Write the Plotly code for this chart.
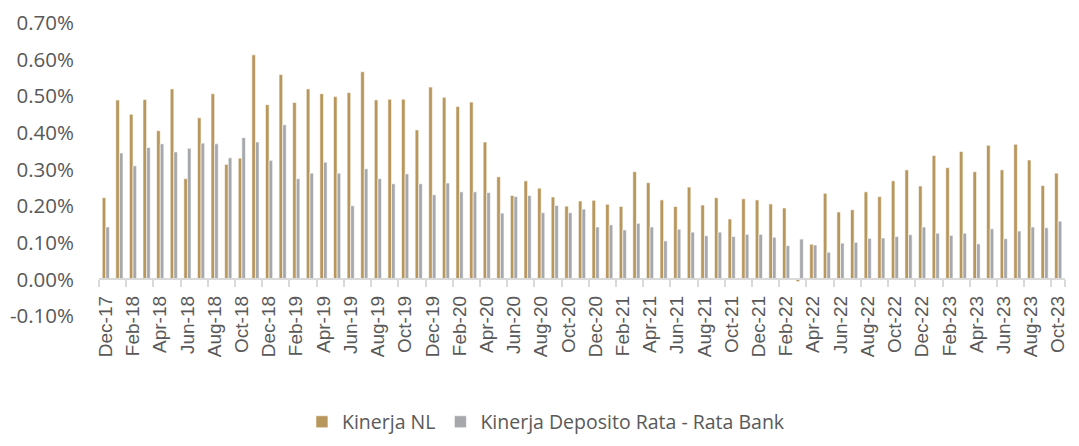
import plotly.graph_objects as go

months = [
    "Dec-17",
    "Jan-18", "Feb-18", "Mar-18", "Apr-18", "May-18", "Jun-18", "Jul-18", "Aug-18", "Sep-18", "Oct-18", "Nov-18", "Dec-18",
    "Jan-19", "Feb-19", "Mar-19", "Apr-19", "May-19", "Jun-19", "Jul-19", "Aug-19", "Sep-19", "Oct-19", "Nov-19", "Dec-19",
    "Jan-20", "Feb-20", "Mar-20", "Apr-20", "May-20", "Jun-20", "Jul-20", "Aug-20", "Sep-20", "Oct-20", "Nov-20", "Dec-20",
    "Jan-21", "Feb-21", "Mar-21", "Apr-21", "May-21", "Jun-21", "Jul-21", "Aug-21", "Sep-21", "Oct-21", "Nov-21", "Dec-21",
    "Jan-22", "Feb-22", "Mar-22", "Apr-22", "May-22", "Jun-22", "Jul-22", "Aug-22", "Sep-22", "Oct-22", "Nov-22", "Dec-22",
    "Jan-23", "Feb-23", "Mar-23", "Apr-23", "May-23", "Jun-23", "Jul-23", "Aug-23", "Sep-23", "Oct-23",
]

kinerja_nl = [
    0.223,
    0.490, 0.451, 0.491, 0.406, 0.520, 0.275, 0.441, 0.507, 0.314, 0.331, 0.613, 0.477,
    0.559, 0.483, 0.520, 0.507, 0.499, 0.510, 0.567, 0.490, 0.492, 0.492, 0.408, 0.525,
    0.497, 0.472, 0.484, 0.375, 0.280, 0.229, 0.269, 0.249, 0.225, 0.200, 0.214, 0.216,
    0.205, 0.199, 0.294, 0.264, 0.217, 0.199, 0.252, 0.203, 0.223, 0.165, 0.220, 0.217,
    0.206, 0.195, -0.006, 0.096, 0.235, 0.184, 0.190, 0.239, 0.226, 0.269, 0.299, 0.255,
    0.338, 0.305, 0.349, 0.294, 0.366, 0.299, 0.369, 0.326, 0.256, 0.290,
]

kinerja_deposito = [
    0.143,
    0.345, 0.310, 0.360, 0.370, 0.348, 0.358, 0.372, 0.370, 0.332, 0.387, 0.375, 0.325,
    0.422, 0.275, 0.290, 0.320, 0.290, 0.201, 0.302, 0.275, 0.261, 0.288, 0.261, 0.231,
    0.263, 0.239, 0.239, 0.237, 0.181, 0.226, 0.229, 0.182, 0.202, 0.182, 0.192, 0.143,
    0.149, 0.135, 0.153, 0.143, 0.105, 0.137, 0.129, 0.119, 0.129, 0.117, 0.123, 0.123,
    0.115, 0.092, 0.110, 0.094, 0.074, 0.099, 0.101, 0.112, 0.113, 0.117, 0.122, 0.143,
    0.126, 0.120, 0.126, 0.097, 0.138, 0.111, 0.132, 0.143, 0.141, 0.159,
]

series_names = ["Kinerja NL", "Kinerja Deposito Rata - Rata Bank"]
y_ticks = [-0.1, 0.0, 0.1, 0.2, 0.3, 0.4, 0.5, 0.6, 0.7]

GOLD = "#B8975C"
GRAY = "#A6A8AB"
TEXT = "#595959"
LINE = "#D9D9D9"

idx = list(range(len(months)))
label_pos = idx[::2]
label_txt = months[::2]
boundaries = [i - 0.5 for i in idx[::2]] + [len(months) - 0.5]

fig = go.Figure()
fig.add_trace(go.Bar(x=idx, y=kinerja_nl, name=series_names[0],
                     marker=dict(color=GOLD, line=dict(color="white", width=0.6))))
fig.add_trace(go.Bar(x=idx, y=kinerja_deposito, name=series_names[1],
                     marker=dict(color=GRAY, line=dict(color="white", width=0.6))))

# invisible trace to bind label axis
fig.add_trace(go.Scatter(x=[idx[0]], y=[None], xaxis="x2", showlegend=False, hoverinfo="skip"))

xr = [-0.5, len(months) - 0.5]
zero_pos = (0 - y_ticks[0]) / (y_ticks[-1] - y_ticks[0])

# page body has an 8px default margin, so the figure is sized to fit inside the window
fig.update_layout(
    width=1063, height=430,
    margin=dict(l=91, r=6, t=15, b=122, autoexpand=False),
    paper_bgcolor="white", plot_bgcolor="white",
    barmode="group", bargap=0.47, bargroupgap=0.0,
    font=dict(family="Open Sans, Liberation Sans, sans-serif", color=TEXT, size=18),
    showlegend=True,
    legend=dict(orientation="h", x=0.4627, xanchor="center", y=-0.362, yanchor="middle",
                font=dict(size=19.5, color=TEXT), itemclick=False),
    xaxis=dict(range=xr, anchor="free", position=zero_pos, showline=True, linecolor=LINE, linewidth=1.5,
               tickmode="array", tickvals=boundaries, showticklabels=False,
               ticks="outside", ticklen=7, tickcolor=LINE, tickwidth=1.5,
               showgrid=False, zeroline=False, automargin=False),
    xaxis2=dict(range=xr, overlaying="x", anchor="free", position=zero_pos, showline=False,
                tickmode="array", tickvals=label_pos, ticktext=label_txt, tickangle=-90,
                ticks="outside", ticklen=8, tickcolor="rgba(0,0,0,0)", ticklabeloverflow="allow",
                tickfont=dict(family="Liberation Sans, Arial, sans-serif", size=19, color=TEXT),
                showgrid=False, zeroline=False, automargin=False),
    yaxis=dict(range=[y_ticks[0], y_ticks[-1]], tickmode="array", tickvals=y_ticks,
               ticktext=[f"{v:.2f}%" for v in y_ticks], showgrid=False, zeroline=False,
               showline=False, ticks="", ticklabelstandoff=24, automargin=False,
               tickfont=dict(family="Open Sans, sans-serif", size=20.5, color=TEXT)),
)

fig.write_html("out.html")
